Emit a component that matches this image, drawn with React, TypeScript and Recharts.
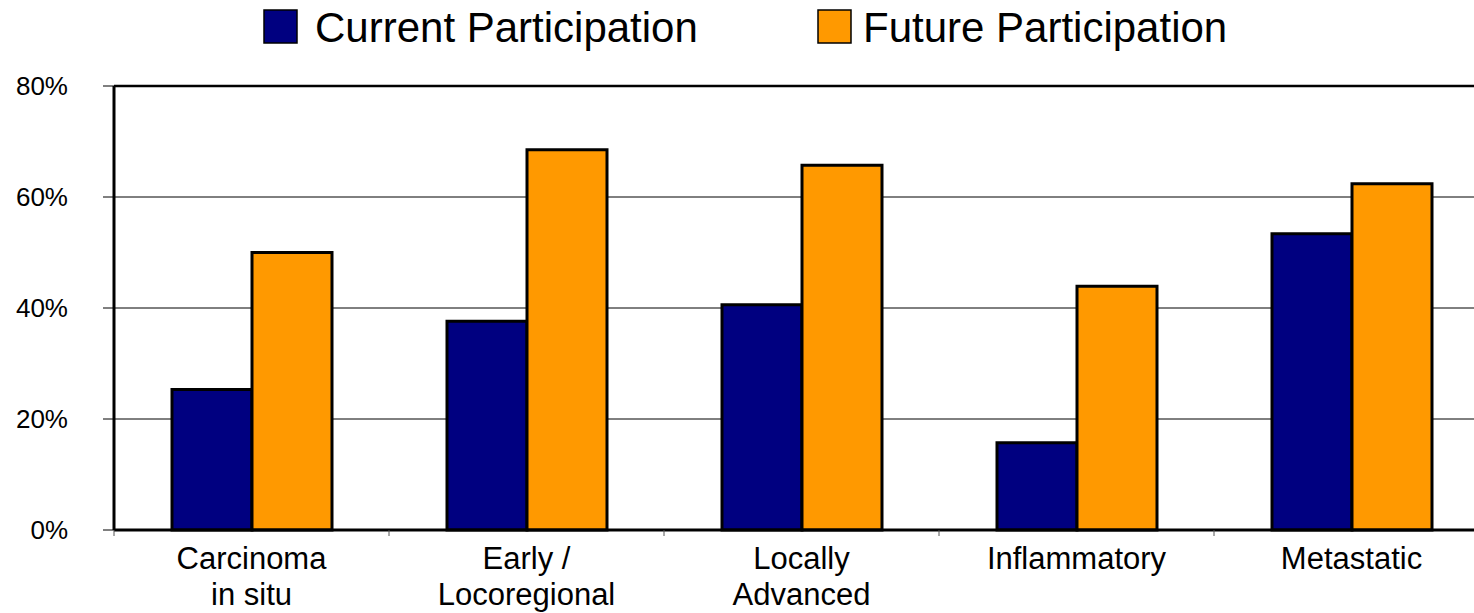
import { Bar, BarChart, CartesianGrid, ReferenceLine, XAxis, YAxis } from "recharts";

const categories = [
  "Carcinoma\nin situ",
  "Early /\nLocoregional",
  "Locally\nAdvanced",
  "Inflammatory",
  "Metastatic",
];
const currentParticipation = [25.3, 37.6, 40.6, 15.7, 53.4];
const futureParticipation = [50, 68.5, 65.7, 43.9, 62.4];
const yTicks = [0, 20, 40, 60, 80];

const series = [
  { key: "current", name: "Current Participation", color: "#000080" },
  { key: "future", name: "Future Participation", color: "#FF9900" },
];

const data = categories.map((name, i) => ({
  name,
  current: currentParticipation[i],
  future: futureParticipation[i],
}));

const FONT = "'Liberation Sans', Arial, sans-serif";
const CHART_W = 1500;
const CHART_H = 613;
const AXIS_W = 114;
const MARGIN_RIGHT = 11;
const BAND = (CHART_W - AXIS_W - MARGIN_RIGHT) / categories.length;

function CategoryTick(props: any) {
  const { x, y, payload } = props;
  const lines = String(payload.value).split("\n");
  const left = x - BAND / 2;
  return (
    <g>
      <line x1={left} x2={left} y1={y} y2={y + 6} stroke="#555" strokeWidth={1} />
      <text textAnchor="middle" fontFamily={FONT} fontSize={31} fill="#000">
        {lines.map((line, i) => (
          <tspan key={i} x={x} y={y + 39 + i * 36}>
            {line}
          </tspan>
        ))}
      </text>
    </g>
  );
}

function LegendRow() {
  const items = [
    { x: 264, textX: 315 },
    { x: 818, textX: 863 },
  ];
  return (
    <svg
      width={1474}
      height={60}
      style={{ position: "absolute", left: 0, top: 0 }}
    >
      {series.map((s, i) => (
        <g key={s.key}>
          <rect
            x={items[i].x}
            y={10}
            width={33}
            height={33}
            fill={s.color}
            stroke="#000"
            strokeWidth={1.5}
          />
          <text
            x={items[i].textX}
            y={42}
            fontFamily={FONT}
            fontSize={42}
            fill="#000"
          >
            {s.name}
          </text>
        </g>
      ))}
    </svg>
  );
}

export default function App() {
  return (
    <div
      style={{
        position: "absolute",
        left: 0,
        top: 0,
        width: 1474,
        height: 613,
        overflow: "hidden",
        background: "#fff",
      }}
    >
      <BarChart
        width={CHART_W}
        height={CHART_H}
        data={data}
        margin={{ top: 86, right: MARGIN_RIGHT, bottom: 0, left: 0 }}
        barGap={0}
      >
        <CartesianGrid vertical={false} stroke="#000" strokeWidth={1} />
        <XAxis
          dataKey="name"
          height={83}
          axisLine={{ stroke: "#000", strokeWidth: 3 }}
          tickLine={false}
          tickSize={0}
          tickMargin={0}
          interval={0}
          tick={<CategoryTick />}
        />
        <YAxis
          width={AXIS_W}
          domain={[0, 80]}
          ticks={yTicks}
          interval={0}
          tickFormatter={(v) => `${v}%`}
          axisLine={{ stroke: "#000", strokeWidth: 3 }}
          tickLine={{ stroke: "#000", strokeWidth: 1 }}
          tickSize={11}
          tickMargin={35}
          tick={{ fontSize: 26, fill: "#000", fontFamily: FONT }}
        />
        <ReferenceLine y={80} stroke="#000" strokeWidth={2.5} />
        {series.map((s) => (
          <Bar
            key={s.key}
            dataKey={s.key}
            name={s.name}
            fill={s.color}
            stroke="#000"
            strokeWidth={3}
            barSize={80}
            isAnimationActive={false}
          />
        ))}
      </BarChart>
      <LegendRow />
    </div>
  );
}
